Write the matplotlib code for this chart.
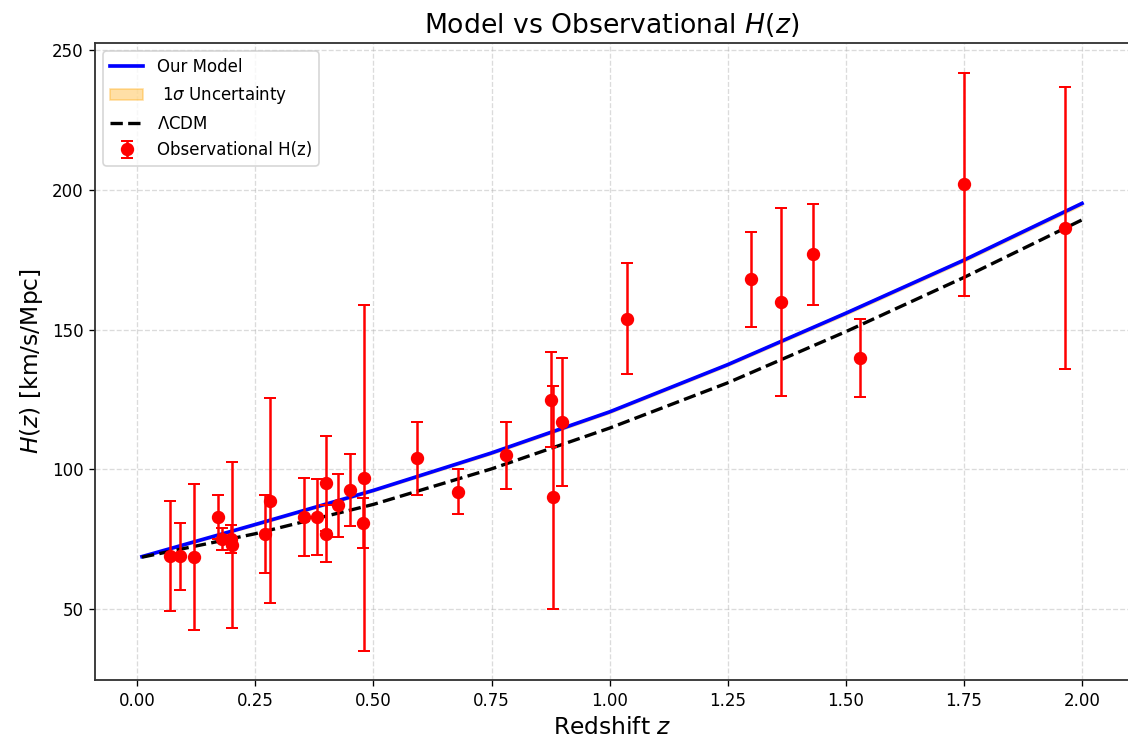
import numpy as np
import matplotlib
matplotlib.use("Agg")
import matplotlib.pyplot as plt

# --- datos observacionales H(z) ---
z_obs = [0.07, 0.09, 0.12, 0.17, 0.179, 0.199, 0.20, 0.27, 0.28, 0.352,
         0.3802, 0.4, 0.4004, 0.4247, 0.4497, 0.4783, 0.48, 0.5929, 0.6797, 0.7812,
         0.8754, 0.88, 0.9, 1.037, 1.3, 1.363, 1.43, 1.53, 1.75, 1.965]
H_obs = [69, 69, 68.6, 83, 75, 75, 72.9, 77, 88.8, 83,
         83, 95, 77, 87.1, 92.8, 80.9, 97, 104, 92, 105,
         125, 90, 117, 154, 168, 160, 177, 140, 202, 186.5]
H_err = [19.6, 12, 26.2, 8, 4, 5, 29.6, 14, 36.6, 14,
         13.5, 17, 10.2, 11.2, 12.9, 9, 62, 13, 8, 12,
         17, 40, 23, 20, 17, 33.6, 18, 14, 40, 50.4]

# --- curvas ---
z_curve = [0.01, 0.25, 0.5, 0.75, 1.0, 1.25, 1.5, 1.75, 2.0]
H_model = [68.8, 80.3, 92.5, 105.9, 120.6, 137.5, 155.9, 174.9, 195.2]
H_model_lo = [68.6, 80.0, 92.2, 105.5, 120.2, 137.1, 155.4, 174.4, 194.6]
H_model_hi = [69.0, 80.6, 92.8, 106.3, 121.0, 137.9, 156.4, 175.4, 195.8]
H_lcdm = [68.6, 77.0, 87.5, 100.2, 114.8, 131.0, 149.3, 168.7, 189.3]

fig = plt.figure(figsize=(9.4, 6.15), dpi=120)
ax = fig.add_axes([95/1128, 58/738, 1034/1128, 637/738])

ax.plot(z_curve, H_model, color="blue", lw=2.2, label="Our Model")
ax.fill_between(z_curve, H_model_lo, H_model_hi, color="orange", alpha=0.35,
                label=r" 1$\sigma$ Uncertainty")
ax.plot(z_curve, H_lcdm, color="black", ls="--", lw=2, label=r"$\Lambda$CDM")
ax.errorbar(z_obs, H_obs, yerr=H_err, fmt="o", color="red", ecolor="red",
            markersize=7, elinewidth=1.5, capsize=3.5, capthick=1.2,
            label="Observational H(z)")

ax.set_xlim(-0.0895, 2.0995)
ax.set_ylim(24.65, 252.6)
ax.set_xticks(np.arange(0, 2.01, 0.25))
ax.set_xticklabels([f"{t:.2f}" for t in np.arange(0, 2.01, 0.25)])
ax.set_yticks([50, 100, 150, 200, 250])

ax.set_title(r"Model vs Observational $H(z)$", fontsize=16)
ax.set_xlabel(r"Redshift $z$", fontsize=14)
ax.set_ylabel(r"$H(z)$ [km/s/Mpc]", fontsize=14)
ax.tick_params(labelsize=10)
ax.grid(True, ls="--", alpha=0.45)
for sp in ax.spines.values():
    sp.set_linewidth(1.1)
    sp.set_color("#333333")

ax.legend(loc="upper left", fontsize=10)

fig.savefig("out.png", dpi=120)
